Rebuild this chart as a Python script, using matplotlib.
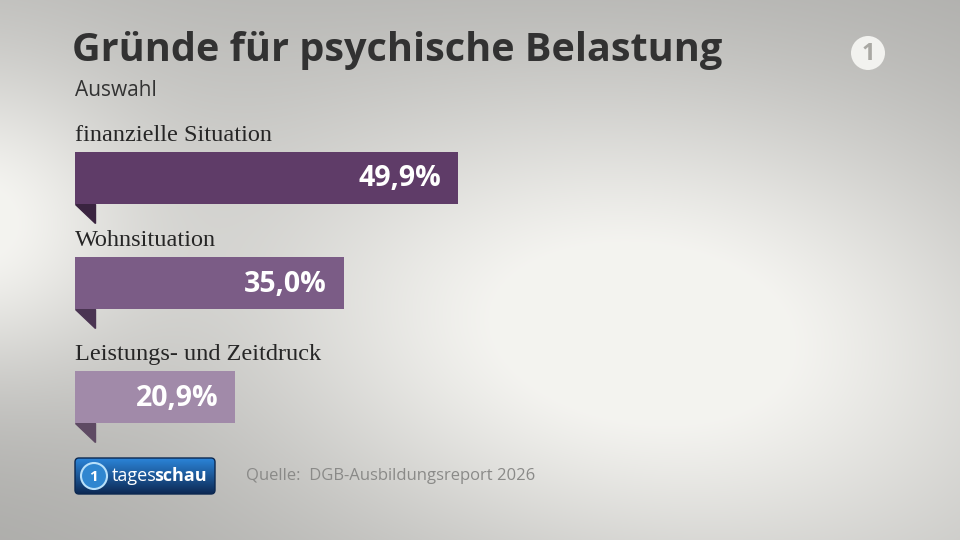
import numpy as np
import matplotlib
matplotlib.use("Agg")
import matplotlib.pyplot as plt
from matplotlib.patches import Polygon, FancyBboxPatch, Circle

# data
categories = ["finanzielle Situation", "Wohnsituation", "Leistungs- und Zeitdruck"]
values = [49.9, 35.0, 20.9]
value_labels = ["49,9%", "35,0%", "20,9%"]
title = "Gründe für psychische Belastung"
subtitle = "Auswahl"
source = "Quelle:  DGB-Ausbildungsreport 2026"

# layout (pixels)
W, H = 960, 540
bar_left = 75
px_per_unit = 7.675
bar_tops = [152, 257, 371]
bar_h = 52
bar_colors = ["#5f3c68", "#7b5c86", "#a18aa9"]
fold_colors = ["#3a2440", "#4a3452", "#5e4a63"]

fig = plt.figure(figsize=(9.6, 5.4), dpi=100)
bg = fig.add_axes([0, 0, 1, 1])
bg.set_xlim(0, W)
bg.set_ylim(H, 0)
bg.axis("off")

# background gradient: grey with a soft light sweep
yy, xx = np.mgrid[0:H, 0:W].astype(float)
blob1 = np.exp(-(((xx - 660) / 420.0) ** 2 + ((yy - 320) / 260.0) ** 2))
blob2 = np.exp(-(((xx + 40) / 170.0) ** 2 + ((yy - 230) / 160.0) ** 2))
# diagonal band from lower left towards upper right
u = (xx * 0.45 + (H - yy) * 0.9) - 420
band = np.exp(-(u / 260.0) ** 2)
light = 0.665 + 0.26 * blob1 + 0.24 * blob2 + 0.07 * band
light = np.clip(light, 0, 0.955)
img = np.dstack([light, light * 0.998, light * 0.983])
bg.imshow(np.clip(img, 0, 1), extent=(0, W, H, 0), aspect="auto", zorder=0)

# bars in data units
ax = fig.add_axes([bar_left / W, 0, (W - bar_left) / W, 1])
ax.set_xlim(0, (W - bar_left) / px_per_unit)
ax.set_ylim(H, 0)
ax.axis("off")
ax.patch.set_alpha(0)

centers = [t + bar_h / 2 for t in bar_tops]
ax.barh(centers, values, height=bar_h, left=0, color=bar_colors, zorder=2)

for i, (c, v) in enumerate(zip(centers, values)):
    top = c - bar_h / 2
    bot = c + bar_h / 2
    # folded corner under the bar
    bg.add_patch(Polygon([(bar_left, bot), (bar_left + 20, bot), (bar_left + 20, bot + 19)],
                         closed=True, color=fold_colors[i], zorder=1))
    ax.text(0, top - 6, categories[i], fontsize=17.5, family="Liberation Serif",
            color="#262626", va="bottom", ha="left")
    ax.text(v - 17 / px_per_unit, c + 1, value_labels[i], fontsize=20.5, fontweight="bold",
            family="Open Sans", color="white", va="center", ha="right", zorder=3)

# titles
bg.text(72, 50, title, fontsize=28.5, fontweight="bold", family="Open Sans",
        color="#323232", va="center", ha="left")
bg.text(75, 90, subtitle, fontsize=15, family="Open Sans", color="#333333",
        va="center", ha="left")

# source
bg.text(246, 476, source, fontsize=12, family="Open Sans", color="#8a8a88",
        va="center", ha="left")

# tagesschau badge with vertical blue gradient
badge = FancyBboxPatch((75, 458), 140, 36, boxstyle="round,pad=0,rounding_size=4",
                       facecolor="none", edgecolor="#0c2850", lw=1, zorder=3)
bg.add_patch(badge)
grad = np.linspace(0, 1, 64)[:, None]
top_c = np.array([0.17, 0.52, 0.85])
bot_c = np.array([0.05, 0.16, 0.33])
gimg = (top_c * (1 - grad[..., None]) + bot_c * grad[..., None]) * np.ones((1, 2, 1))
gi = bg.imshow(gimg, extent=(75, 215, 494, 458), aspect="auto", zorder=2)
gi.set_clip_path(badge)
bg.add_patch(Circle((94, 476), 13, facecolor="#2f86d0", edgecolor="#b8e0fa", lw=1.5, zorder=4))
bg.text(94, 477, "1", fontsize=11, fontweight="bold", color="white", ha="center",
        va="center", family="Open Sans", zorder=5)
bg.text(112, 476, "tages", fontsize=13, family="Open Sans", color="white",
        va="center", ha="left", zorder=5)
bg.text(154, 476, "schau", fontsize=13, fontweight="bold", family="Open Sans", color="white",
        va="center", ha="left", zorder=5)

# ARD logo
bg.add_patch(Circle((868, 53), 17, facecolor="#f2f2ef", edgecolor="none", zorder=2))
bg.text(868, 54, "1", fontsize=17, fontweight="bold", color="#a9a8a3", ha="center",
        va="center", family="Open Sans", zorder=3)

fig.savefig("out.png", dpi=100)
